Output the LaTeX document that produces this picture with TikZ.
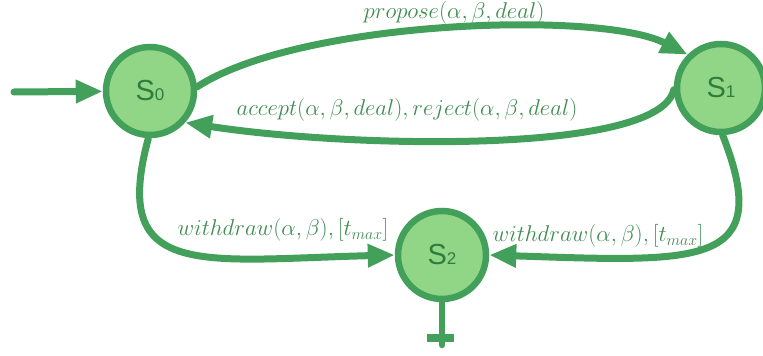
\documentclass[tikz,border=0pt]{standalone}
\usepackage{fontspec}
\usepackage{graphicx}
\setsansfont{Liberation Sans}
\usetikzlibrary{arrows.meta}
\definecolor{edgegreen}{RGB}{67,160,90}
\definecolor{fillgreen}{RGB}{144,214,134}
\definecolor{textgreen}{RGB}{46,125,60}
\definecolor{labelgreen}{RGB}{62,140,80}
\newcommand{\lbltext}[1]{\scalebox{1.1}{$#1$}}
\begin{document}
\begin{tikzpicture}[x=1pt,y=-1pt,
  state/.style={circle, draw=edgegreen, fill=fillgreen, line width=6.5pt, minimum size=88pt, inner sep=0pt, text=textgreen, font=\sffamily\fontsize{29}{29}\selectfont},
  edge/.style={draw=edgegreen, line width=7pt, line cap=round, -{Triangle[length=27pt,width=22pt]}},
  lbl/.style={text=labelgreen, font=\fontsize{20.74}{24}\selectfont, inner sep=0pt}]
\useasboundingbox (0,0) rectangle (763,356);
\node[state] (s0) at (150,91) {S{\fontsize{17}{17}\selectfont 0}};
\node[state] (s1) at (721,88) {S{\fontsize{17}{17}\selectfont 1}};
\node[state] (s2) at (442,255) {S{\fontsize{17}{17}\selectfont 2}};
\coordinate (init) at (14,92);
\coordinate (sinkend) at (442,345);
\coordinate (barl) at (427,338);
\coordinate (barr) at (454,338);
\draw[edge] (init) -- (s0);
\draw[edge] (s0.5) .. controls (300,20) and (600,10) .. (s1.135);
\draw[edge] (s1.182) .. controls (660,155) and (350,148) .. (s0.-42);
\draw[edge] (s0.-92) .. controls (110,280) and (200,260) .. (s2.180);
\draw[edge] (s1.-88) .. controls (775,268) and (700,262) .. (s2.0);
\draw[draw=edgegreen, line width=6.5pt, line cap=round] (s2.south) -- (sinkend);
\draw[draw=edgegreen, line width=8pt] (barl) -- (barr);
\node[lbl] (lp) at (454,13) {\lbltext{propose(\alpha,\beta,deal)}};
\node[lbl] (la) at (407,110) {\lbltext{accept(\alpha,\beta,deal),reject(\alpha,\beta,deal)}};
\node[lbl] (lw1) at (283,230) {\lbltext{withdraw(\alpha,\beta),[t_{max}]}};
\node[lbl] (lw2) at (598,236) {\lbltext{withdraw(\alpha,\beta),[t_{max}]}};
\end{tikzpicture}
\end{document}
